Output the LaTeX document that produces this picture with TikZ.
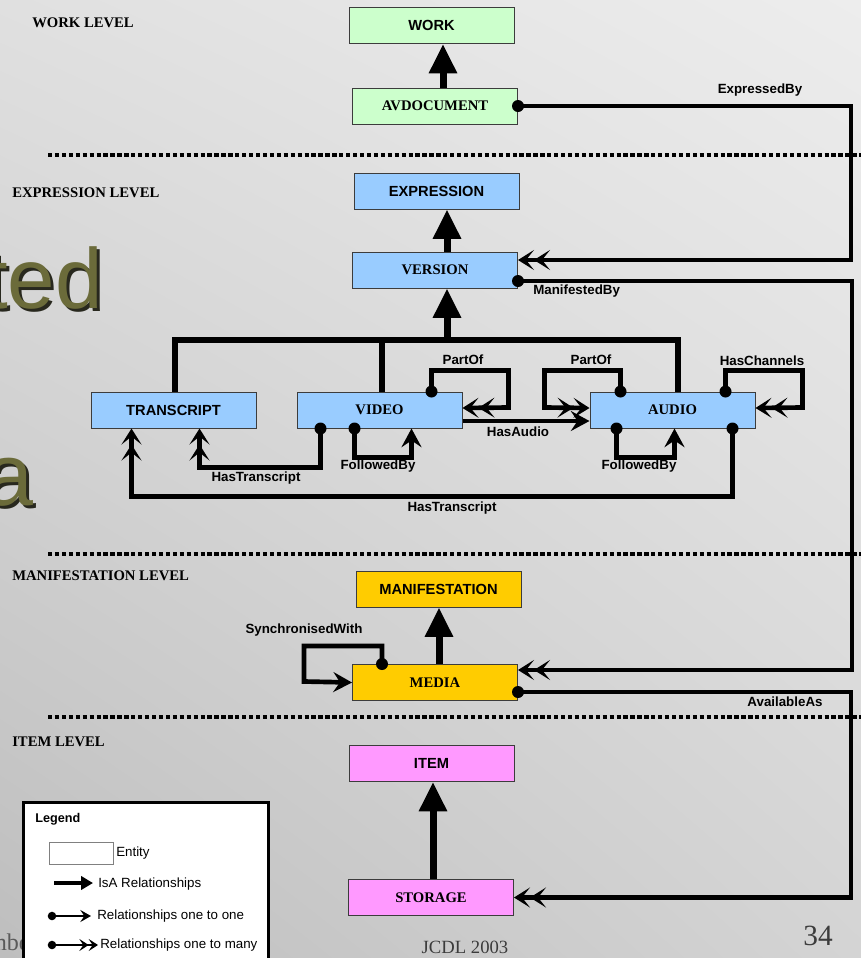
\documentclass[tikz,border=0pt]{standalone}
\usepackage{fontspec}
\setmainfont{Liberation Serif}
\newfontfamily\arial{Liberation Sans}
\usetikzlibrary{arrows.meta,calc,shadings}
\definecolor{wgreen}{RGB}{204,255,204}
\definecolor{eblue}{RGB}{153,204,255}
\definecolor{myellow}{RGB}{255,204,0}
\definecolor{ipink}{RGB}{255,153,255}
\definecolor{boxline}{RGB}{60,60,60}
\definecolor{olivec}{RGB}{107,107,58}
\definecolor{shadowc}{RGB}{40,40,30}
\definecolor{slidegray}{RGB}{90,90,90}
\definecolor{txtgray}{RGB}{60,60,60}
\definecolor{bgUL}{RGB}{224,224,224}
\definecolor{bgUR}{RGB}{237,237,237}
\definecolor{bgLL}{RGB}{190,190,190}
\definecolor{bgLR}{RGB}{212,212,212}
\begin{document}
\begin{tikzpicture}[x=0.75pt,y=-0.75pt,
  box/.style={draw=boxline, line width=0.75pt, minimum width=165*0.75pt, minimum height=36*0.75pt, inner sep=0pt, font=\arial\bfseries\fontsize{11}{13}\selectfont},
  tbox/.style={box, font=\bfseries\fontsize{11}{13}\selectfont},
  lbl/.style={inner sep=0pt, font=\arial\bfseries\fontsize{10}{12}\selectfont},
  lvl/.style={inner sep=0pt, anchor=west, font=\bfseries\fontsize{11}{13}\selectfont},
  legtxt/.style={inner sep=0pt, anchor=west, font=\arial\fontsize{10}{12}\selectfont},
  isa/.style={line width=5.25pt, -{Triangle[length=22pt,width=20pt]}},
  bar/.style={line width=4.5pt},
  conn/.style={line width=3.5pt},
  onemany/.style={conn, -{Stealth[length=12pt,width=15pt,inset=6pt] Stealth[length=12pt,width=15pt,inset=6pt]}},
  oneone/.style={conn, -{Stealth[length=14pt,width=15pt,inset=5pt]}},
  lvline/.style={line width=2.6pt, dash pattern=on 3.2pt off 2pt},
  bigtxt/.style={inner sep=0pt, anchor=base east, font=\arial\fontsize{64}{70}\selectfont}
]
\useasboundingbox (0,0) rectangle (861,958);
\clip (0,0) rectangle (861,958);
\shade[upper left=bgUL, upper right=bgUR, lower left=bgLL, lower right=bgLR]
  (0,0) rectangle (861,958);

% slide background text
\node[bigtxt, text=shadowc] (tedS) at (106,311) {ted};
\node[bigtxt, text=olivec] (ted) at (103,308) {ted};
\node[bigtxt, text=shadowc, font=\arial\fontsize{66}{70}\selectfont] (aS) at (37,508) {a};
\node[bigtxt, text=olivec, font=\arial\fontsize{66}{70}\selectfont] (a) at (34,505) {a};
\node[inner sep=0pt, anchor=base west, font=\fontsize{18}{20}\selectfont, text=slidegray] (mbe) at (-12,950) {mbe};
\node[inner sep=0pt, anchor=base, font=\fontsize{14}{16}\selectfont, text=txtgray] (jcdl) at (465,953) {JCDL 2003};
\node[inner sep=0pt, anchor=base, font=\fontsize{22}{24}\selectfont, text=txtgray] (pnum) at (818,945) {34};

% level separators
\draw[lvline] (48,155) -- (861,155);
\draw[lvline] (48,554) -- (861,554);
\draw[lvline] (48,717) -- (861,717);

% level labels
\node[lvl] (wl) at (32,23) {WORK LEVEL};
\node[lvl] (el) at (12,193) {EXPRESSION LEVEL};
\node[lvl] (ml) at (12,576) {MANIFESTATION LEVEL};
\node[lvl] (il) at (12,742) {ITEM LEVEL};

% entities
\node[box, fill=wgreen] (work) at (431.5,25.5) {WORK};
\node[tbox, fill=wgreen] (avdoc) at (435,106) {AVDOCUMENT};
\node[box, fill=eblue] (expression) at (436.5,191) {EXPRESSION};
\node[tbox, fill=eblue] (version) at (435,270) {VERSION};
\node[box, fill=eblue] (transcript) at (173.5,410) {TRANSCRIPT};
\node[tbox, fill=eblue] (video) at (379.5,410) {VIDEO};
\node[tbox, fill=eblue] (audio) at (672.5,410) {AUDIO};
\node[box, fill=myellow] (manif) at (438.5,589) {MANIFESTATION};
\node[tbox, fill=myellow] (media) at (435,682.5) {MEDIA};
\node[box, fill=ipink] (item) at (431.5,763.5) {ITEM};
\node[tbox, fill=ipink] (storage) at (431,897.5) {STORAGE};

% IsA relationships
\draw[isa] ($(avdoc.north)+(8,0)$) -- ($(work.south)+(11.5,0)$);
\draw[isa] ($(version.north)+(12,0)$) -- ($(expression.south)+(10.5,0)$);
\coordinate (hub) at (447,340);
\draw[bar] ($(transcript.north)+(1.5,0)$) |- (hub) -| ($(audio.north)+(5.5,0)$);
\draw[bar] ($(video.north)+(2.5,0)$) |- (hub);
\draw[isa] (hub) -- ($(version.south)+(12,0)$);
\draw[isa] ($(media.north)+(4,0)$) -- ($(manif.south)+(0.5,0)$);
\draw[isa] ($(storage.north)+(2,0)$) -- ($(item.south)+(1.5,0)$);

% relationships
\coordinate (eb) at (avdoc.east);
\draw[onemany] (eb) -- ++(333,0) |- ($(version.east)+(0,-10)$);
\coordinate (mb) at ($(version.east)+(0,11)$);
\draw[onemany] (mb) -- ++(334,0) |- ($(media.east)+(0,-12.5)$);
\coordinate (aa) at ($(media.east)+(0,9.5)$);
\draw[onemany] (aa) -- ++(333,0) |- (storage.east);

\coordinate (pv) at ($(video.north west)+(135,0)$);
\draw[onemany] (pv) -- ++(0,-21) -- ++(77,0) -- ++(0,37) -- ($(video.east)+(0,-2)$);
\coordinate (pa) at ($(audio.north west)+(31,0)$);
\draw[onemany] (pa) -- ++(0,-21) -- ++(-76,0) -- ++(0,37) -- ($(audio.west)+(0,-2)$);
\coordinate (hc) at ($(audio.north west)+(136,0)$);
\draw[onemany] (hc) -- ++(0,-21) -- ++(77,0) -- ++(0,37) -- ($(audio.east)+(0,-2)$);

\draw[oneone] ($(video.east)+(0,11)$) -- ($(audio.west)+(0,11)$);

\coordinate (fv) at ($(video.south west)+(58,0)$);
\draw[oneone] (fv) -- ++(0,29) -| ($(video.south west)+(115,0)$);
\coordinate (fa) at ($(audio.south west)+(27,0)$);
\draw[oneone] (fa) -- ++(0,29) -| ($(audio.south west)+(85,0)$);

\coordinate (ht1) at ($(video.south west)+(24,0)$);
\draw[onemany] (ht1) -- ++(0,39) -| ($(transcript.south west)+(109,0)$);
\coordinate (ht2) at ($(audio.south west)+(143,0)$);
\draw[onemany] (ht2) -- ++(0,68) -| ($(transcript.south west)+(41,0)$);

\coordinate (sw) at ($(media.north west)+(30,0)$);
\draw[oneone] (sw) -- ++(0,-18) -- ++(-78,0) -- ++(0,35.5) -- (media.west);

\foreach \c in {eb,mb,aa,pv,pa,hc,fv,fa,ht1,ht2,sw} \fill (\c) circle[radius=4.5pt];

% relationship labels
\node[lbl] (l-eb) at (760,90) {ExpressedBy};
\node[lbl, anchor=west] (l-mb) at (533,291) {ManifestedBy};
\node[lbl] (l-pv) at (463,360) {PartOf};
\node[lbl] (l-pa) at (591,360) {PartOf};
\node[lbl] (l-hc) at (762,361) {HasChannels};
\node[lbl] (l-ha) at (518,432) {HasAudio};
\node[lbl] (l-fv) at (378,466) {FollowedBy};
\node[lbl] (l-fa) at (639,466) {FollowedBy};
\node[lbl] (l-ht1) at (256,478) {HasTranscript};
\node[lbl] (l-ht2) at (452,508) {HasTranscript};
\node[lbl] (l-sw) at (304,630) {SynchronisedWith};
\node[lbl] (l-aa) at (785,702) {AvailableAs};

% legend
\node[draw=black, line width=2pt, fill=white, minimum width=245*0.75pt, minimum height=175*0.75pt, anchor=north west, inner sep=0pt] (legend) at (22,801) {};
\node[inner sep=0pt, anchor=west, font=\arial\bfseries\fontsize{9.5}{11}\selectfont] (legtitle) at (35,819) {Legend};
\node[draw=gray, line width=0.6pt, minimum width=64*0.75pt, minimum height=22*0.75pt, inner sep=0pt] (legent) at (81.5,853) {};
\node[legtxt] (legentl) at (116,853) {Entity};
\coordinate (l1a) at (54,883); \coordinate (l1b) at (93,883);
\draw[line width=3pt, -{Triangle[length=9pt,width=10pt]}] (l1a) -- (l1b);
\node[legtxt] (leg1) at (98,884) {IsA Relationships};
\coordinate (l2a) at (52,916); \coordinate (l2b) at (91,916);
\draw[line width=1.2pt, -{Stealth[length=8pt,width=9pt,inset=3pt]}] (l2a) -- (l2b);
\fill (l2a) circle[radius=3.2pt];
\node[legtxt] (leg2) at (97,916) {Relationships one to one};
\coordinate (l3a) at (52,945); \coordinate (l3b) at (98,945);
\draw[line width=1.5pt, -{Stealth[length=7pt,width=9pt,inset=3pt] Stealth[length=7pt,width=9pt,inset=3pt]}] (l3a) -- (l3b);
\fill (l3a) circle[radius=3.2pt];
\node[legtxt] (leg3) at (100,945) {Relationships one to many};
\end{tikzpicture}
\end{document}
